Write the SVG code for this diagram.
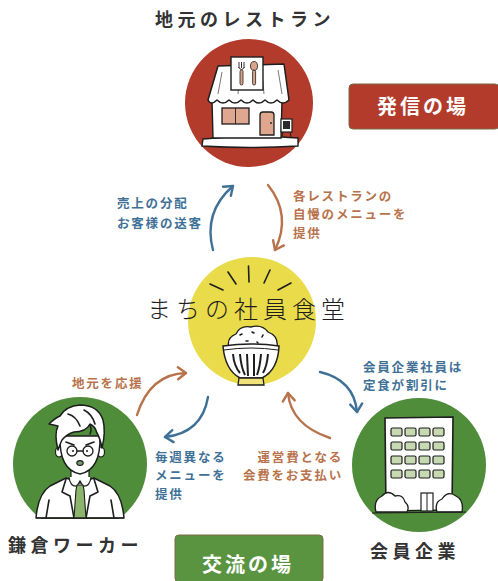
<svg xmlns="http://www.w3.org/2000/svg" width="498" height="581" viewBox="0 0 498 581">
  <style>
    .title { font-family: "Noto Sans CJK JP", "Noto Sans", sans-serif; font-weight: 700; fill: #333; font-size: 18px; letter-spacing: 4.5px; }
    .badge { font-family: "Noto Sans CJK JP", "Noto Sans", sans-serif; font-weight: 700; fill: #fff; font-size: 20px; letter-spacing: 3px; }
    .lbl { font-family: "Noto Sans CJK JP", "Noto Sans", sans-serif; font-weight: 700; font-size: 12.5px; letter-spacing: 1.8px; }
    .blue { fill: #3f7196; }
    .orange { fill: #b8734c; }
    .ink { fill: none; stroke: #1e1e1e; stroke-width: 1.6; stroke-linecap: round; stroke-linejoin: round; }
    .arrowB { fill: none; stroke: #3f7196; stroke-width: 2.4; stroke-linecap: round; }
    .arrowO { fill: none; stroke: #b8734c; stroke-width: 2.4; stroke-linecap: round; }
  </style>
  <defs>
    <marker id="headB" viewBox="-10 -8 12 16" markerWidth="12" markerHeight="16" markerUnits="userSpaceOnUse" orient="auto" refX="0" refY="0">
      <path d="M-8,-6 L0,0 L-8,6" fill="none" stroke="#3f7196" stroke-width="2.4" stroke-linecap="round" stroke-linejoin="round"/>
    </marker>
    <marker id="headO" viewBox="-10 -8 12 16" markerWidth="12" markerHeight="16" markerUnits="userSpaceOnUse" orient="auto" refX="0" refY="0">
      <path d="M-8,-6 L0,0 L-8,6" fill="none" stroke="#b8734c" stroke-width="2.4" stroke-linecap="round" stroke-linejoin="round"/>
    </marker>
    <clipPath id="workerClip">
      <rect x="0" y="380" width="170" height="139"/>
    </clipPath>
  </defs>

  <!-- Restaurant node -->
  <g id="restaurant">
    <text class="title" x="155" y="26">地元のレストラン</text>
    <circle cx="249" cy="103" r="64" fill="#b33b2b"/>
    <!-- base platform -->
    <path d="M203,139 Q250,134 298,138 L298,146 Q250,149 202,146 Z" fill="#fff" stroke="#1e1e1e" stroke-width="1.4"/>
    <!-- body -->
    <path d="M212,100 L282,100 L281,138 L213,138 Z" fill="#fff" stroke="#1e1e1e" stroke-width="1.4"/>
    <!-- roof / awning -->
    <path d="M218,66 L284,64 L289,100 Q283,106 277,100 Q271,106 265,100 Q259,106 253,100 Q247,106 241,100 Q235,106 229,100 Q223,106 217,100 Q211,106 208,100 Z" fill="#fff" stroke="#1e1e1e" stroke-width="1.5" stroke-linejoin="round"/>
    <path d="M222,72 L218,94 M240,72 L238,94 M262,72 L264,94 M278,70 L282,94" stroke="#555" stroke-width="0.8" fill="none"/>
    <!-- sign board -->
    <rect x="231" y="57" width="32" height="33" fill="#fff" stroke="#1e1e1e" stroke-width="1.4"/>
    <path d="M239,62 L239,68 M241.5,62 L241.5,68 M244,62 L244,68 M238.5,67 Q241.5,72 244.5,67" fill="none" stroke="#1e1e1e" stroke-width="0.9"/>
    <rect x="240" y="70" width="3" height="15" rx="1.5" fill="#d9a58a" stroke="#1e1e1e" stroke-width="0.8"/>
    <ellipse cx="254" cy="66" rx="3.5" ry="4.5" fill="#d9a58a" stroke="#1e1e1e" stroke-width="0.8"/>
    <rect x="252.6" y="70" width="3" height="15" rx="1.5" fill="#d9a58a" stroke="#1e1e1e" stroke-width="0.8"/>
    <!-- window -->
    <rect x="222" y="108" width="27" height="16" fill="#dfa78f" stroke="#1e1e1e" stroke-width="1.3"/>
    <line x1="235.5" y1="108" x2="235.5" y2="124" stroke="#1e1e1e" stroke-width="0.9"/>
    <!-- door -->
    <path d="M260,135 L260,115 Q260,112 263,112 L271,112 Q274,112 274,115 L274,135 Z" fill="#dfa78f" stroke="#1e1e1e" stroke-width="1.3"/>
    <circle cx="271" cy="123" r="0.9" fill="#1e1e1e"/>
    <!-- standing sign -->
    <rect x="281" y="119" width="11" height="13" fill="#fff" stroke="#1e1e1e" stroke-width="1.2"/>
    <rect x="283" y="121" width="7" height="8" fill="#2a2a2a"/>
    <path d="M283,132 L282,137 M290,132 L291,137" stroke="#1e1e1e" stroke-width="1"/>
  </g>

  <!-- Broadcast badge -->
  <g id="badge-broadcast">
    <rect x="349" y="84" width="150" height="45" rx="4" fill="#b33b2b" stroke="#7a6a45" stroke-width="1"/>
    <text class="badge" x="423" y="114" text-anchor="middle">発信の場</text>
  </g>

  <!-- Canteen node -->
  <g id="canteen">
    <circle cx="252" cy="321" r="64" fill="#eadb4a"/>
    <!-- rays -->
    <path d="M248.5,266 L249,282 M228,272 L236,284 M270,270 L264,283 M210,284 L223,290 M291,283 L278,290" class="ink" stroke-width="1.2"/>
    <!-- rice mound -->
    <path d="M229,348 Q226,338 236,334 Q240,325 251,327 Q262,324 268,332 Q279,336 277,348 Z" fill="#fff" stroke="#1e1e1e" stroke-width="1.3"/>
    <path d="M240,335 l2,-1 M252,332 l2,1 M262,337 l1,-2 M246,341 l2,0 M257,342 l1,1" class="ink" stroke-width="0.8"/>
    <!-- bowl -->
    <path d="M223,346 Q251,342 279,346 Q278,370 262,378 L240,378 Q225,370 223,346 Z" fill="#fff" stroke="#1e1e1e" stroke-width="1.5"/>
    <path d="M224,350 Q251,346 278,350" fill="none" stroke="#1e1e1e" stroke-width="1"/>
    <path d="M233,354 Q234,366 240,373 M240,354 Q241,367 245,375 M247,354 L248,376 M254,354 L254,376 M261,354 Q260,367 257,375 M268,354 Q267,366 263,373" fill="none" stroke="#1e1e1e" stroke-width="2"/>
    <path d="M239,378 L263,378 L264,385 L238,385 Z" fill="#f2e27a" stroke="#1e1e1e" stroke-width="1.3"/>
    <text x="147" y="318" font-family="'Noto Sans CJK JP', sans-serif" font-weight="300" font-size="24" letter-spacing="5" fill="#1e1e1e">まちの社員食堂</text>
  </g>

  <!-- Worker node -->
  <g id="worker">
    <circle cx="80" cy="464" r="67" fill="#4f8d3a" clip-path="url(#workerClip)"/>
    <!-- jacket -->
    <path d="M36,518 Q38,494 50,486 L66,478 L80,483 L94,478 L110,486 Q122,494 124,518 Z" fill="#fff" stroke="#1e1e1e" stroke-width="1.5" stroke-linejoin="round"/>
    <path d="M66,479 L62,492 L70,496 L74,518 M94,479 L98,492 L90,496 L86,518 M46,518 L49,500 M114,518 L111,500" class="ink" stroke-width="1"/>
    <!-- neck -->
    <path d="M71,465 L71,478 L89,478 L89,465 Z" fill="#fff" stroke="#1e1e1e" stroke-width="1.2"/>
    <!-- collar -->
    <path d="M69,477 Q70,487 77,486 L80,481 L83,486 Q90,487 91,477" fill="#fff" stroke="#1e1e1e" stroke-width="1.2"/>
    <!-- tie -->
    <path d="M77,485 L83,485 L84,490 L86,518 L74,518 L76,490 Z" fill="#8cb46c" stroke="#1e1e1e" stroke-width="1.1"/>
    <!-- ears -->
    <ellipse cx="59" cy="452" rx="3.5" ry="5" fill="#fff" stroke="#1e1e1e" stroke-width="1.2"/>
    <ellipse cx="101" cy="452" rx="3.5" ry="5" fill="#fff" stroke="#1e1e1e" stroke-width="1.2"/>
    <!-- face -->
    <path d="M60,436 Q59,470 80,474 Q101,470 100,436 Z" fill="#fff" stroke="#1e1e1e" stroke-width="1.5"/>
    <!-- hair -->
    <path d="M58,450 Q54,434 58,426 L49,424 Q55,418 60,416 Q66,406 80,405 Q98,405 103,420 Q106,432 102,448 Q100,438 97,433 Q95,426 90,424 Q86,432 74,432 Q67,434 62,440 Q60,444 58,450 Z" fill="#fff" stroke="#1e1e1e" stroke-width="1.5" stroke-linejoin="round"/>
    <path d="M84,410 Q92,414 95,424 M68,414 Q76,416 80,426 M90,425 Q92,430 90,434" class="ink" stroke-width="0.9"/>
    <!-- brows -->
    <path d="M66,442 L74,445 M86,445 L94,442" class="ink" stroke-width="1.4"/>
    <!-- glasses -->
    <circle cx="72" cy="451" r="5" fill="none" stroke="#1e1e1e" stroke-width="1.3"/>
    <circle cx="88" cy="451" r="5" fill="none" stroke="#1e1e1e" stroke-width="1.3"/>
    <path d="M77,451 L83,451" class="ink" stroke-width="1.1"/>
    <circle cx="73" cy="451" r="1" fill="#1e1e1e"/>
    <circle cx="87" cy="451" r="1" fill="#1e1e1e"/>
    <!-- mouth -->
    <ellipse cx="80" cy="463" rx="3.2" ry="2.4" fill="#7a9a6a" stroke="#1e1e1e" stroke-width="1.1"/>
    <line x1="36" y1="518" x2="124" y2="518" stroke="#1e1e1e" stroke-width="1"/>
    <text class="title" x="8" y="552">鎌倉ワーカー</text>
  </g>

  <!-- Member company node -->
  <g id="company">
    <circle cx="419" cy="465" r="67" fill="#4f8d3a"/>
    <!-- building -->
    <path d="M385,418 L453,417 L452,510 L386,511 Z" fill="#fff" stroke="#1e1e1e" stroke-width="1.6"/>
    <g fill="#c7d9b1" stroke="#1e1e1e" stroke-width="1.2">
      <rect x="391" y="428" width="11" height="8" rx="1.5"/>
      <rect x="405" y="428" width="11" height="8" rx="1.5"/>
      <rect x="419" y="428" width="11" height="8" rx="1.5"/>
      <rect x="433" y="428" width="11" height="8" rx="1.5"/>
      <rect x="391" y="442" width="11" height="8" rx="1.5"/>
      <rect x="405" y="442" width="11" height="8" rx="1.5"/>
      <rect x="419" y="442" width="11" height="8" rx="1.5"/>
      <rect x="433" y="442" width="11" height="8" rx="1.5"/>
      <rect x="391" y="456" width="11" height="8" rx="1.5"/>
      <rect x="405" y="456" width="11" height="8" rx="1.5"/>
      <rect x="419" y="456" width="11" height="8" rx="1.5"/>
      <rect x="433" y="456" width="11" height="8" rx="1.5"/>
      <rect x="391" y="470" width="11" height="8" rx="1.5"/>
      <rect x="405" y="470" width="11" height="8" rx="1.5"/>
      <rect x="419" y="470" width="11" height="8" rx="1.5"/>
      <rect x="433" y="470" width="11" height="8" rx="1.5"/>
    </g>
    <!-- door -->
    <rect x="421" y="493" width="12" height="18" fill="#fff" stroke="#1e1e1e" stroke-width="1.2"/>
    <line x1="427" y1="493" x2="427" y2="511" stroke="#1e1e1e" stroke-width="1"/>
    <!-- bushes -->
    <path d="M376,512 Q373,500 382,496 Q388,489 395,496 Q403,494 405,502 Q410,506 407,512 Z" fill="#fff" stroke="#1e1e1e" stroke-width="1.3"/>
    <path d="M437,512 Q434,502 442,499 Q448,490 456,496 Q464,500 462,512 Z" fill="#fff" stroke="#1e1e1e" stroke-width="1.3"/>
    <path d="M372,513 L466,512" stroke="#1e1e1e" stroke-width="1.2"/>
    <text class="title" x="370" y="558">会員企業</text>
  </g>

  <!-- Exchange badge -->
  <g id="badge-exchange">
    <rect x="175" y="535" width="148" height="47" rx="4" fill="#5a9440" stroke="#7a6a45" stroke-width="1"/>
    <text class="badge" x="248" y="572" text-anchor="middle">交流の場</text>
  </g>

  <!-- Connectors -->
  <g id="connectors">
    <path class="arrowB" d="M213,250 Q203,212 233,186" marker-end="url(#headB)"/>
    <path class="arrowO" d="M268,185 Q292,215 275,250" marker-end="url(#headO)"/>
    <path class="arrowO" d="M137,415 Q150,374 186,373" marker-end="url(#headO)"/>
    <path class="arrowB" d="M208,397 Q202,433 165,437" marker-end="url(#headB)"/>
    <path class="arrowO" d="M330,438 Q291,425 288,393" marker-end="url(#headO)"/>
    <path class="arrowB" d="M320,372 Q354,380 357,412" marker-end="url(#headB)"/>

    <text class="lbl blue" x="117" y="208">売上の分配</text>
    <text class="lbl blue" x="117" y="228">お客様の送客</text>

    <text class="lbl orange" x="293" y="201">各レストランの</text>
    <text class="lbl orange" x="293" y="219">自慢のメニューを</text>
    <text class="lbl orange" x="293" y="238">提供</text>

    <text class="lbl orange" x="72" y="388">地元を応援</text>

    <text class="lbl blue" x="155" y="462">毎週異なる</text>
    <text class="lbl blue" x="155" y="480">メニューを</text>
    <text class="lbl blue" x="155" y="499">提供</text>

    <text class="lbl orange" x="343" y="462" text-anchor="end">運営費となる</text>
    <text class="lbl orange" x="343" y="480" text-anchor="end">会費をお支払い</text>

    <text class="lbl blue" x="363" y="372">会員企業社員は</text>
    <text class="lbl blue" x="363" y="390">定食が割引に</text>
  </g>
</svg>
